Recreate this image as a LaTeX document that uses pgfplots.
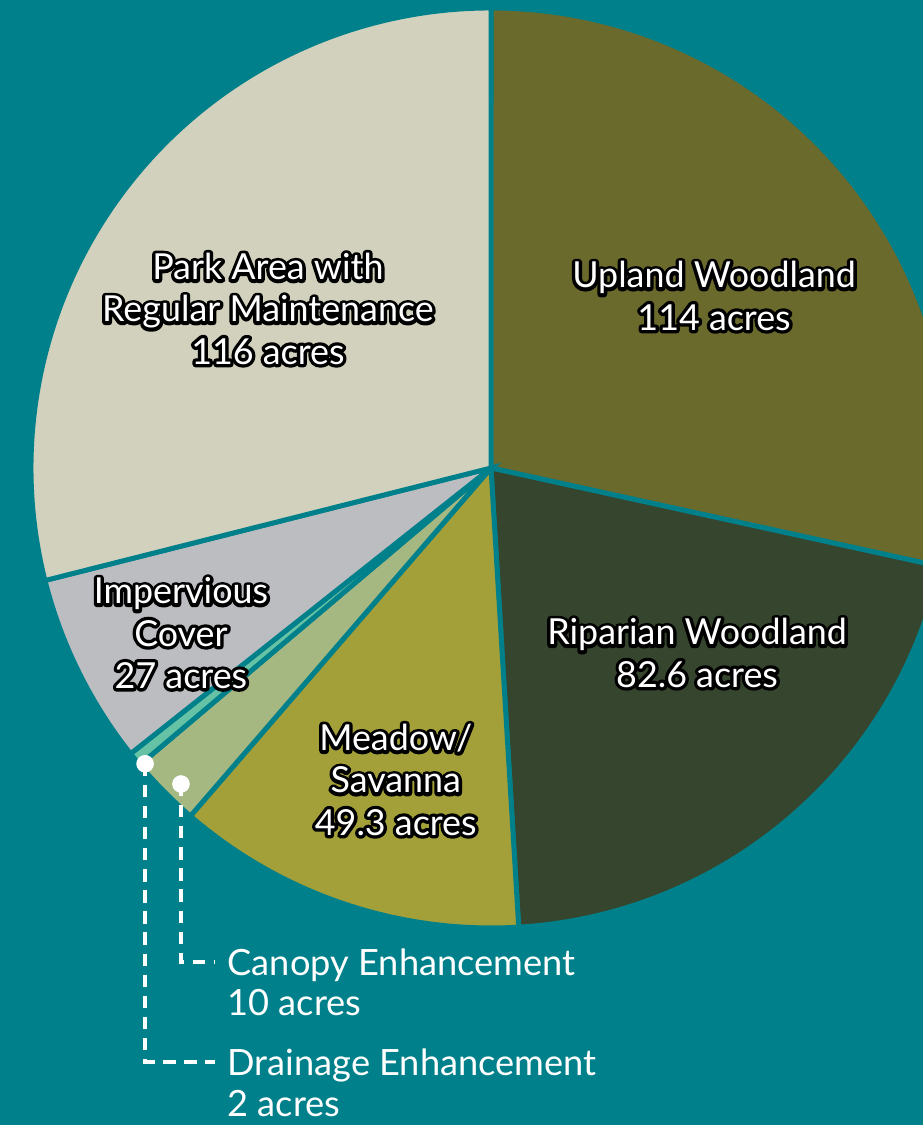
\documentclass[border=0pt]{standalone}
\usepackage{pgfplots}
\pgfplotsset{compat=1.18}
\usepackage{fontspec}
\setmainfont{Lato}

\definecolor{bg}{HTML}{00808A}
\definecolor{cU}{HTML}{6B6A2D}
\definecolor{cR}{HTML}{36452D}
\definecolor{cM}{HTML}{A39F39}
\definecolor{cC}{HTML}{A6B882}
\definecolor{cD}{HTML}{66C2A5}
\definecolor{cI}{HTML}{BCBDC1}
\definecolor{cP}{HTML}{D2D1BD}

% acres per slice, clockwise from the top
\def\vU{114}
\def\vR{82.6}
\def\vM{49.3}
\def\vC{10}
\def\vD{2}
\def\vI{27}
\def\vP{116}
\pgfmathsetmacro\tot{\vU+\vR+\vM+\vC+\vD+\vI+\vP}
\pgfmathsetmacro\aZ{90}
\pgfmathsetmacro\aA{\aZ-\vU/\tot*360}
\pgfmathsetmacro\aB{\aA-\vR/\tot*360}
\pgfmathsetmacro\aC{\aB-\vM/\tot*360}
\pgfmathsetmacro\aD{\aC-\vC/\tot*360}
\pgfmathsetmacro\aE{\aD-\vD/\tot*360}
\pgfmathsetmacro\aF{\aE-\vI/\tot*360}
\pgfmathsetmacro\aG{\aF-\vP/\tot*360}

% white text with a black outline: stroked copy underneath, white on top
\newcommand\ol[1]{{\leavevmode\rlap{\special{pdf:literal direct 1 Tr 1.9 w 1 j 0 G}#1\special{pdf:literal direct 0 Tr 1 w 0 j}}\color{white}#1}}

\newcommand\slice[3]{\fill[#1, draw=bg, line width=1.4pt] (axis cs:0,0) -- (axis cs:{cos(#2)},{sin(#2)}) arc[start angle=#2, end angle=#3, radius=4.6cm] -- cycle;}

\tikzset{
  lbl/.style={font=\fontsize{10.2}{12}\selectfont, align=center, inner sep=0pt},
  note/.style={anchor=west, align=left, inner sep=0pt, white, font=\fontsize{10.3}{11.5}\selectfont},
}

\begin{document}
\begin{tikzpicture}
\begin{axis}[
  x=4.6cm, y=4.6cm,
  xmin=-1.0674, xmax=0.9391,
  ymin=-1.4283, ymax=1.0174,
  hide axis,
  clip=true,
]
\fill[bg] (rel axis cs:0,0) rectangle (rel axis cs:1,1);
\slice{cU}{\aZ}{\aA}
\slice{cR}{\aA}{\aB}
\slice{cM}{\aB}{\aC}
\slice{cC}{\aC}{\aD}
\slice{cD}{\aD}{\aE}
\slice{cI}{\aE}{\aF}
\slice{cP}{\aF}{\aG}

% leader lines and dots
\addplot[white, line width=1pt, dash pattern=on 3.5pt off 2.5pt] coordinates {(-0.752,-0.643) (-0.752,-1.291) (-0.600,-1.291)};
\addplot[white, line width=1pt, dash pattern=on 3.5pt off 2.5pt] coordinates {(-0.674,-0.687) (-0.674,-1.074) (-0.600,-1.074)};
\addplot[only marks, mark=*, mark size=2.3pt, white] coordinates {(-0.752,-0.643) (-0.674,-0.687)};

\node[lbl] at (axis cs:0.485,0.374) {\ol{Upland Woodland}\\\ol{114 acres}};
\node[lbl] at (axis cs:-0.485,0.346) {\ol{Park Area with}\\\ol{Regular Maintenance}\\\ol{116 acres}};
\node[lbl] at (axis cs:0.448,-0.402) {\ol{Riparian Woodland}\\\ol{82.6 acres}};
\node[lbl] at (axis cs:-0.674,-0.359) {\ol{Impervious}\\\ol{Cover}\\\ol{27 acres}};
\node[lbl] at (axis cs:-0.207,-0.678) {\ol{Meadow/}\\\ol{Savanna}\\\ol{49.3 acres}};

\node[note] at (axis cs:-0.574,-1.118) {Canopy Enhancement\\10 acres};
\node[note] at (axis cs:-0.574,-1.337) {Drainage Enhancement\\2 acres};
\end{axis}
\end{tikzpicture}
\end{document}
